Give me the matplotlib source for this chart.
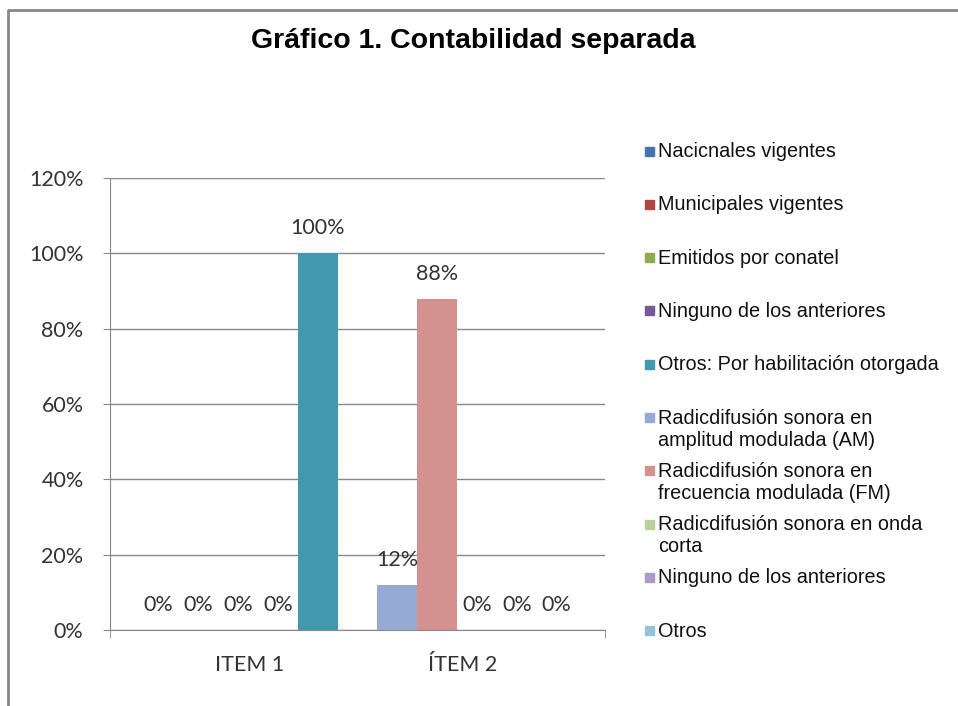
import matplotlib
matplotlib.use('Agg')
import matplotlib.pyplot as plt
from matplotlib.patches import Rectangle
from matplotlib.lines import Line2D

categories = ['ITEM 1', 'ÍTEM 2']

series_item1 = ['Nacicnales vigentes', 'Municipales vigentes', 'Emitidos por conatel',
                'Ninguno de los anteriores', 'Otros: Por habilitación otorgada']
values_item1 = [0, 0, 0, 0, 100]

series_item2 = ['Radicdifusión sonora en\namplitud modulada (AM)',
                'Radicdifusión sonora en\nfrecuencia modulada (FM)',
                'Radicdifusión sonora en onda\ncorta',
                'Ninguno de los anteriores', 'Otros']
values_item2 = [12, 88, 0, 0, 0]

colors_item1 = ['#4573AE', '#B04642', '#8DAA4F', '#735B97', '#4298AF']
colors_item2 = ['#95ABD4', '#D39190', '#BCD19A', '#AB9CC5', '#93C4D6']

W, H = 958, 706
fig = plt.figure(figsize=(W / 100, H / 100), dpi=100)
ax = fig.add_axes([110 / W, 1 - 630 / H, 495 / W, 452 / H])

bw = 0.167
lab_font = dict(family=['Lato', 'DejaVu Sans'], size=15.5, color='#333333')

for gi, (vals, cols) in enumerate([(values_item1, colors_item1), (values_item2, colors_item2)]):
    for i, (v, c) in enumerate(zip(vals, cols)):
        x = gi + (i - 2) * bw
        ax.bar(x, v, width=bw, color=c, zorder=2)
        ax.annotate('%d%%' % v, (x, v), xytext=(0, 18), textcoords='offset points',
                    ha='center', va='center', zorder=3, **lab_font)

ax.set_xlim(-0.536, 1.536)
ax.set_ylim(0, 120)
ax.set_yticks(range(0, 121, 20))
ax.set_yticklabels(['%d%%' % t for t in range(0, 121, 20)], **lab_font)
ax.set_xticks([0.05, 0.94])
ax.set_xticklabels(categories, **lab_font)
ax.tick_params(axis='x', length=0, pad=18)
ax.tick_params(axis='y', length=5, color='#888888', pad=14)
ax.set_xticks([-0.536, 1.536], minor=True)
ax.tick_params(axis='x', which='minor', length=6, color='#888888')
ax.grid(axis='y', color='#888888', linewidth=1, zorder=0)
for s in ['top', 'right']:
    ax.spines[s].set_visible(False)
for s in ['left', 'bottom']:
    ax.spines[s].set_color('#888888')

fig.text(473 / W, 1 - 41 / H, 'Gráfico 1. Contabilidad separada', ha='center', va='center',
         family='Liberation Sans', fontweight='bold', size=20.5)

# legend drawn by hand, one row every ~53 px
names = series_item1 + series_item2
cols = colors_item1 + colors_item2
for k, (n, c) in enumerate(zip(names, cols)):
    yc = 151 + k * 53.3
    fig.patches.append(Rectangle((645 / W, 1 - (yc + 4.5) / H), 9 / W, 9 / H,
                                 transform=fig.transFigure, color=c))
    fig.text(658 / W, 1 - (yc - 9) / H, n, ha='left', va='top',
             family='Liberation Sans', size=14.3, color='#111111', linespacing=1.2)

# outer frame
fig.add_artist(Line2D([8 / W, 8 / W, 1], [0, 1 - 10 / H, 1 - 10 / H],
                      transform=fig.transFigure, color='#888888', linewidth=2))

fig.savefig('out.png', dpi=100)
